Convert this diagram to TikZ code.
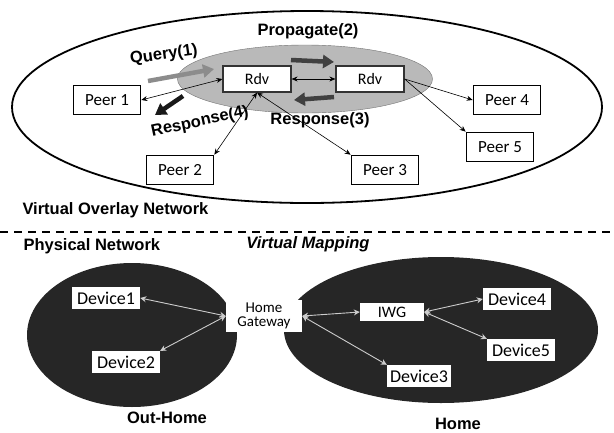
\documentclass[tikz,border=0pt]{standalone}
\usepackage{fontspec}
\setmainfont{Carlito}
\newfontfamily\lblfont{Liberation Sans}
\usepackage{tikz}
\usetikzlibrary{shapes,arrows.meta}

\begin{document}
\begin{tikzpicture}[x=1pt,y=-1pt,
  box/.style={fill=white,inner sep=0pt,font=\fontsize{16}{16}\selectfont,align=center},
  peer/.style={box,draw,line width=1.6pt,minimum width=67pt,minimum height=29pt,font=\fontsize{17}{17}\selectfont},
  rdv/.style={box,draw=black!80,line width=1.2pt,minimum width=68pt,minimum height=26pt},
  dev/.style={box,minimum width=68pt,minimum height=22pt,font=\fontsize{18}{18}\selectfont},
  lbl/.style={font=\fontsize{16.5}{16.5}\selectfont\lblfont\bfseries},
  arr/.style={line width=0.6pt,-{Stealth[length=6pt,width=5pt]}},
  link/.style={arr,{Stealth[length=6pt,width=5pt]}-{Stealth[length=6pt,width=5pt]}},
  msg/.style={line width=4.5pt,-{Triangle[length=11pt,width=13pt]}},
  wire/.style={white!80!black,line width=0.9pt,{Stealth[length=6pt,width=6pt]}-{Stealth[length=6pt,width=6pt]}}]
\useasboundingbox (0,0) rectangle (614,432);

\draw[line width=1.8pt] (307,107) ellipse [x radius=295pt, y radius=96pt];
\node[ellipse,fill=gray!55,draw=black!55,minimum width=255pt,minimum height=68pt,inner sep=0pt] (ov) at (305,79) {};

\coordinate (q1) at (148,81);
\coordinate (q2) at (214,69);
\coordinate (p1) at (291,60);
\coordinate (p2) at (334,62);
\coordinate (r1) at (334,97);
\coordinate (r2) at (294,100);
\coordinate (s1) at (183,96);
\coordinate (s2) at (155,115);
\draw[msg,black!45] (q1)--(q2);
\draw[msg,black!75] (p1)--(p2);
\draw[msg,black!75] (r1)--(r2);
\draw[msg,black!90] (s1)--(s2);

\node[rdv] (rdvA) at (257,79) {Rdv};
\node[rdv] (rdvB) at (370,79) {Rdv};
\node[peer] (peer1) at (107,100) {Peer 1};
\node[peer] (peer2) at (180,170) {Peer 2};
\node[peer] (peer3) at (385,170) {Peer 3};
\node[peer] (peer4) at (507,100) {Peer 4};
\node[peer] (peer5) at (500,147) {Peer 5};

\draw[link] (rdvA)--(rdvB);
\draw[link] (rdvA.west)--(peer1.east);
\draw[link] (rdvA.south)--(peer2.north east);
\draw[link] (rdvA.south)--(peer3.north west);
\draw[arr] (rdvB.east)--(peer4.west);
\draw[arr] (rdvB.east)--(peer5.north west);

\node[lbl] (prop) at (308,31) {Propagate(2)};
\node[lbl,rotate=8] (query) at (164,55) {Query(1)};
\node[lbl,rotate=12] (resp4) at (200,122) {Response(4)};
\node[lbl] (resp3) at (320,120) {Response(3)};
\node[lbl,anchor=west] (vnet) at (19,210) {Virtual Overlay Network};

\draw[line width=1.5pt,dash pattern=on 8pt off 6pt] (0,232)--(614,232);

\node[lbl,anchor=west] (pnet) at (20,246) {Physical Network};
\node[lbl,font=\fontsize{16.5}{16.5}\selectfont\lblfont\bfseries\itshape] (vmap) at (308,244) {Virtual Mapping};

\fill[black!85] (132,335) ellipse [x radius=105pt, y radius=72pt];
\fill[black!85] (441,330) ellipse [x radius=157pt, y radius=73pt];

\node[box,minimum width=76pt,minimum height=32pt,font=\fontsize{15}{14}\selectfont] (hg) at (264,316) {Home\\Gateway};
\node[dev] (dev1) at (106,298) {Device1};
\node[dev] (dev2) at (126,362) {Device2};
\node[dev,minimum width=64pt] (dev3) at (419,376) {Device3};
\node[dev] (dev4) at (517,299) {Device4};
\node[dev] (dev5) at (521,350) {Device5};
\node[dev,minimum width=64pt,minimum height=18pt,font=\fontsize{16}{16}\selectfont] (iwg) at (392,312) {IWG};

\draw[wire] (dev1.east)--(hg.west);
\draw[wire] (dev2.north east)--(hg.west);
\draw[wire] (hg.east)--(iwg.west);
\draw[wire] (hg.east)--(dev3.north west);
\draw[wire] (iwg.east)--(dev4.west);
\draw[wire] (iwg.east)--(dev5.north west);

\node[lbl] (outh) at (167,418) {Out-Home};
\node[lbl] (home) at (458,424) {Home};
\end{tikzpicture}
\end{document}
